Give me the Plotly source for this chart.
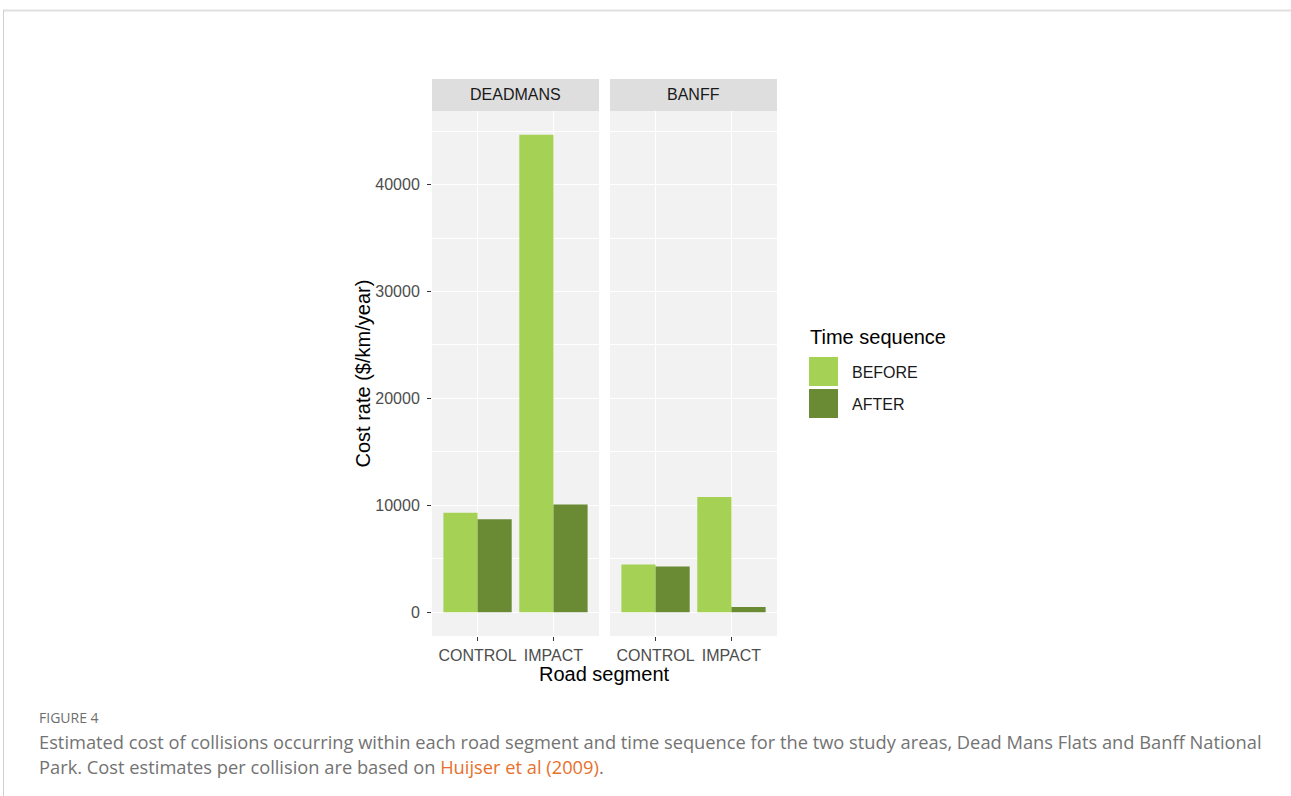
import plotly.graph_objects as go

# Road segments, study areas and time sequences
segments = ["CONTROL", "IMPACT"]
areas = ["DEADMANS", "BANFF"]
sequences = ["BEFORE", "AFTER"]

# Cost rate ($/km/year) per road segment
deadmans_before = [9300, 44650]
deadmans_after = [8690, 10060]
banff_before = [4460, 10780]
banff_after = [4270, 470]

y_ticks = [0, 10000, 20000, 30000, 40000]
y_tick_labels = ["0", "10000", "20000", "30000", "40000"]

values = {
    "DEADMANS": {"BEFORE": deadmans_before, "AFTER": deadmans_after},
    "BANFF": {"BEFORE": banff_before, "AFTER": banff_after},
}
colors = {"BEFORE": "#a5d155", "AFTER": "#6a8a34"}

W, H = 1291, 796


def fx(x):
    return x / W


def fy(y):
    return 1 - y / H


# panel pixel extents
panel_x = [(432, 599), (610, 777)]
panel_top, panel_bottom = 111, 636
strip_top = 79

all_vals = deadmans_before + deadmans_after + banff_before + banff_after
vmax = max(all_vals)
vmin = min(0, min(all_vals))
span = vmax - vmin
y_range = [vmin - 0.05 * span, vmax + 0.05 * span]

FONT = "Liberation Sans, Arial, sans-serif"

fig = go.Figure()
for i, area in enumerate(areas):
    xa = "x" if i == 0 else "x2"
    ya = "y" if i == 0 else "y2"
    for seq in sequences:
        fig.add_trace(go.Bar(
            x=segments, y=values[area][seq], name=seq,
            marker=dict(color=colors[seq], line=dict(width=0)),
            xaxis=xa, yaxis=ya, offsetgroup=seq, showlegend=False,
            hovertemplate=area + " %{x}<br>" + seq + ": %{y}<extra></extra>",
        ))

axis_common = dict(
    showline=False, zeroline=False,
    gridcolor="white", gridwidth=1.4,
    ticklen=4, tickwidth=1, tickcolor="#333333",
    tickfont=dict(family=FONT, size=16, color="#4d4d4d"),
)

ydom = [fy(panel_bottom), fy(panel_top)]
minor_grid = dict(dtick=5000, tick0=0, showgrid=True,
                  gridcolor="white", gridwidth=0.7, ticks="")
fig.update_layout(
    width=W, height=H,
    margin=dict(l=0, r=0, t=0, b=0),
    paper_bgcolor="white", plot_bgcolor="#f2f2f2",
    barmode="group", bargap=0.1, bargroupgap=0,
    showlegend=False,
    xaxis=dict(domain=[fx(panel_x[0][0]), fx(panel_x[0][1])], anchor="y",
               type="category", range=[-0.6, 1.6], ticks="outside",
               ticklabelstandoff=1, **axis_common),
    xaxis2=dict(domain=[fx(panel_x[1][0]), fx(panel_x[1][1])], anchor="y2",
                type="category", range=[-0.6, 1.6], ticks="outside",
                ticklabelstandoff=1, **axis_common),
    yaxis=dict(domain=ydom, anchor="x", range=y_range,
               tickvals=y_ticks, ticktext=y_tick_labels, ticks="outside",
               ticklabelstandoff=4, minor=minor_grid, **axis_common),
    yaxis2=dict(domain=ydom, anchor="x2", range=y_range, matches="y",
                tickvals=y_ticks, showticklabels=False, ticks="",
                minor=minor_grid, **axis_common),
)

shapes = []
annotations = []

# page frame
shapes.append(dict(type="line", xref="paper", yref="paper",
                   x0=fx(3), x1=1, y0=fy(10.5), y1=fy(10.5),
                   line=dict(color="#e0e0e0", width=2)))
shapes.append(dict(type="line", xref="paper", yref="paper",
                   x0=fx(3.5), x1=fx(3.5), y0=0, y1=fy(10),
                   line=dict(color="#d0d0d0", width=1)))

# facet strips
for (x0, x1), area in zip(panel_x, areas):
    shapes.append(dict(type="rect", xref="paper", yref="paper",
                       x0=fx(x0), x1=fx(x1), y0=fy(panel_top), y1=fy(strip_top),
                       fillcolor="#dedede", line=dict(width=0), layer="below"))
    annotations.append(dict(xref="paper", yref="paper",
                            x=fx((x0 + x1) / 2), y=fy((strip_top + panel_top) / 2),
                            text=area, showarrow=False, xanchor="center", yanchor="middle",
                            font=dict(family=FONT, size=16, color="#1a1a1a")))

# axis titles
annotations.append(dict(xref="paper", yref="paper",
                        x=fx((panel_x[0][0] + panel_x[1][1]) / 2), y=fy(674),
                        text="Road segment", showarrow=False,
                        xanchor="center", yanchor="middle",
                        font=dict(family=FONT, size=20, color="black")))
annotations.append(dict(xref="paper", yref="paper",
                        x=fx(362), y=fy((panel_top + panel_bottom) / 2),
                        text="Cost rate ($/km/year)", showarrow=False, textangle=-90,
                        xanchor="center", yanchor="middle",
                        font=dict(family=FONT, size=20, color="black")))

# legend
annotations.append(dict(xref="paper", yref="paper", x=fx(808), y=fy(337),
                        text="Time sequence", showarrow=False,
                        xanchor="left", yanchor="middle",
                        font=dict(family=FONT, size=20, color="black")))
key_tops = [357, 389]
for seq, top in zip(sequences, key_tops):
    shapes.append(dict(type="rect", xref="paper", yref="paper",
                       x0=fx(809), x1=fx(838), y0=fy(top + 29), y1=fy(top),
                       fillcolor=colors[seq], line=dict(width=0)))
    annotations.append(dict(xref="paper", yref="paper", x=fx(850), y=fy(top + 15.5),
                            text=seq, showarrow=False, xanchor="left", yanchor="middle",
                            font=dict(family=FONT, size=16, color="#1a1a1a")))

# caption
CAP_FONT = "Open Sans, sans-serif"
annotations.append(dict(xref="paper", yref="paper", x=fx(37), y=fy(717),
                        text="FIGURE 4", showarrow=False, xanchor="left", yanchor="middle",
                        font=dict(family=CAP_FONT, size=14, color="#6e6e6e")))
annotations.append(dict(xref="paper", yref="paper", x=fx(37), y=fy(741),
                        text="Estimated cost of collisions occurring within each road segment and time "
                             "sequence for the two study areas, Dead Mans Flats and Banff National",
                        showarrow=False, xanchor="left", yanchor="middle",
                        font=dict(family=CAP_FONT, size=18.3, color="#737373")))
annotations.append(dict(xref="paper", yref="paper", x=fx(37), y=fy(766),
                        text="Park. Cost estimates per collision are based on "
                             "<span style='color:#e8702a'>Huijser et al (2009)</span>.",
                        showarrow=False, xanchor="left", yanchor="middle",
                        font=dict(family=CAP_FONT, size=18.3, color="#737373")))

fig.update_layout(shapes=shapes, annotations=annotations)
fig.write_html("out.html")
